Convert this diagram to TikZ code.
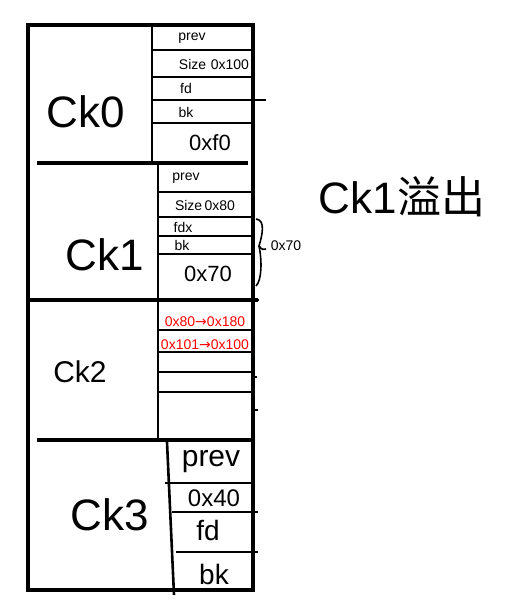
\documentclass[tikz,border=0pt]{standalone}
\usepackage{fontspec}
\setmainfont{Liberation Sans}
\newfontfamily\cjk{Noto Sans CJK SC}
\newfontfamily\dejavu{DejaVu Sans}
\begin{document}
\begin{tikzpicture}[x=1pt,y=-1pt,
  thickline/.style={line width=4pt},
  rowline/.style={line width=2.6pt},
  thinline/.style={line width=1.6pt},
  lbl/.style={inner sep=0pt,anchor=center},
  big/.style={lbl,font=\fontsize{44}{44}\selectfont},
  fld/.style={lbl,font=\fontsize{14}{14}\selectfont},
  red/.style={lbl,text=red,font=\fontsize{14}{14}\selectfont}]
\useasboundingbox (0,0) rectangle (524,604);
% outer box
\draw[thickline] (28,25) rectangle (253,590);
% dividers
\draw[thickline] (37,163) -- (248,163);
\draw[thickline] (28,300) -- (258,300);
\draw[thickline] (37,440) -- (255,440);
% field columns
\draw[rowline] (152,25) -- (152,163);
\draw[rowline] (158,163) -- (158,300);
\draw[rowline] (158,300) -- (158,440);
\draw[rowline] (167,442) -- (174,595);
% ck0 rows
\foreach \y in {50,77,123} \draw[rowline] (152,\y) -- (253,\y);
\draw[rowline] (152,100) -- (266,100);
% ck1 rows
\foreach \y in {192,217,236,254} \draw[rowline] (158,\y) -- (253,\y);
% ck2 rows
\foreach \y in {330,352,372,392} \draw[rowline] (158,\y) -- (253,\y);
% ck3 rows
\draw[rowline] (165,483) -- (255,483);
\draw[rowline] (172,512) -- (258,512);
\draw[rowline] (176,552) -- (258,552);
% stray ticks
\draw[rowline] (253,377) -- (257,377);
\draw[rowline] (253,410) -- (258,410);
\draw[rowline] (253,300) -- (259,300);
% labels
\node[big] (ck0) at (86,112) {Ck0};
\node[big] (ck1) at (105,255) {Ck1};
\node[lbl,font=\fontsize{30}{30}\selectfont] (ck2) at (80,372) {Ck2};
\node[big] (ck3) at (110,515) {Ck3};
\node[lbl,font=\fontsize{44}{44}\selectfont] (ovf) at (402,197) {Ck1{\cjk 溢出}};
% ck0 fields
\node[fld] (p0) at (192,38) {prev};
\node[fld] (s0) at (214,64) {Size\,\,0x100};
\node[fld] (f0) at (186,88) {fd};
\node[fld] (b0) at (186,112) {bk};
\node[lbl,font=\fontsize{22}{22}\selectfont] (d0) at (210,143) {0xf0};
% ck1 fields
\node[fld] (p1) at (186,178) {prev};
\node[fld] (s1) at (205,205) {Size\,0x80};
\node[fld] (f1) at (183,227) {fdx};
\node[fld] (b1) at (182,245) {bk};
\node[lbl,font=\fontsize{22}{22}\selectfont] (d1) at (208,274) {0x70};
% brace
\draw[thinline] (256,219) .. controls (266,220) and (262,236) .. (259,246)
  .. controls (262,250) and (264,250) .. (266,249);
\draw[thinline] (259,246) .. controls (262,260) and (262,280) .. (256,286);
\node[fld] (b70) at (286,246) {0x70};
% ck2 red fields
\node[red] (r1) at (205,322) {0x80{\dejavu →}0x180};
\node[red] (r2) at (205,345) {0x101{\dejavu →}0x100};
% ck3 fields
\node[lbl,font=\fontsize{30}{30}\selectfont] (p3) at (211,462) {prev};
\node[lbl,font=\fontsize{24}{24}\selectfont] (s3) at (214,498) {0x40};
\node[lbl,font=\fontsize{28}{28}\selectfont] (f3) at (208,530) {fd};
\node[lbl,font=\fontsize{28}{28}\selectfont] (bk3) at (214,574) {bk};
\end{tikzpicture}
\end{document}
